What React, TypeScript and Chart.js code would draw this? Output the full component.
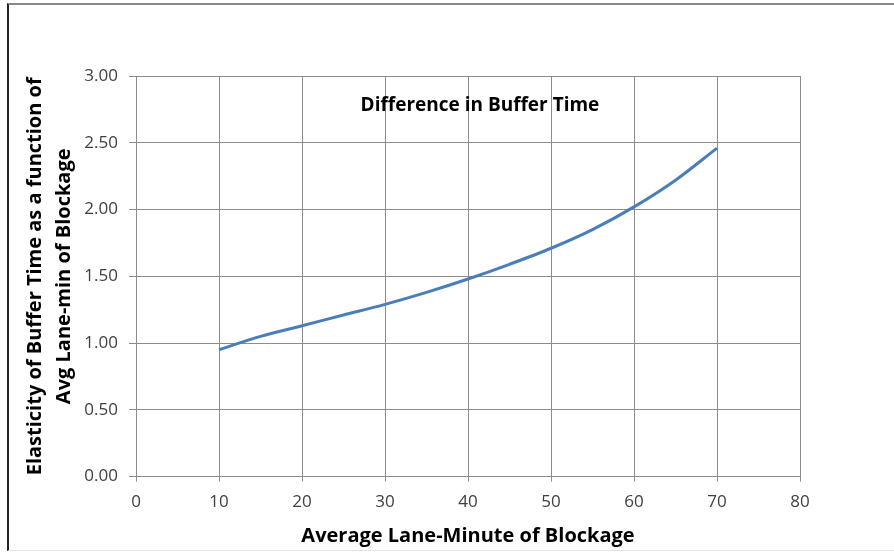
import React, { useEffect, useRef } from "react";
import { Chart, registerables } from "chart.js";

Chart.register(...registerables);

const xValues = [10, 15, 20, 25, 30, 35, 40, 45, 50, 55, 60, 65, 70];
const yValues = [0.95, 1.05, 1.13, 1.21, 1.29, 1.38, 1.48, 1.59, 1.71, 1.85, 2.02, 2.22, 2.46];
const chartTitle = "Difference in Buffer Time";
const xTitle = "Average Lane-Minute of Blockage";
const yTitle = ["Elasticity of Buffer Time as a function of", "Avg Lane-min of Blockage"];

const FONT = "'Open Sans', 'DejaVu Sans', sans-serif";

const innerTitle = {
  id: "innerTitle",
  afterDraw(chart: any) {
    const { ctx, chartArea } = chart;
    ctx.save();
    ctx.font = `bold 19px ${FONT}`;
    ctx.fillStyle = "#000";
    ctx.textAlign = "center";
    ctx.textBaseline = "middle";
    const x = chartArea.left + (chartArea.right - chartArea.left) * 0.518;
    ctx.fillText(chartTitle, x, chartArea.top + 30);
    ctx.restore();
  },
};

export default function App() {
  const ref = useRef<HTMLCanvasElement>(null);
  useEffect(() => {
    if (!ref.current) return;
    const chart = new Chart(ref.current, {
      type: "line",
      data: {
        datasets: [
          {
            data: xValues.map((x, i) => ({ x, y: yValues[i] })),
            borderColor: "#4a7ebb",
            borderWidth: 3,
            pointRadius: 0,
            cubicInterpolationMode: "monotone",
            fill: false,
          },
        ],
      },
      options: {
        animation: false,
        responsive: false,
        maintainAspectRatio: false,
        layout: { padding: { left: 0, top: 76, right: 94, bottom: 6 } },
        plugins: { legend: { display: false }, tooltip: { enabled: false } },
        scales: {
          x: {
            type: "linear",
            min: 0,
            max: 80,
            ticks: { stepSize: 10, color: "#404040", font: { family: FONT, size: 17 }, padding: 10 },
            grid: { color: "#8c8c8c", lineWidth: 1, tickLength: 5 },
            border: { color: "#8c8c8c" },
            title: {
              display: true,
              text: xTitle,
              color: "#000",
              font: { family: FONT, size: 20, weight: "bold" },
              padding: { top: 2, bottom: 0 },
            },
          },
          y: {
            min: 0,
            max: 3,
            ticks: {
              stepSize: 0.5,
              color: "#404040",
              font: { family: FONT, size: 17 },
              padding: 11,
              callback: (v: any) => Number(v).toFixed(2),
            },
            grid: { color: "#8c8c8c", lineWidth: 1, tickLength: 7 },
            border: { color: "#8c8c8c" },
            title: {
              display: true,
              text: yTitle,
              color: "#000",
              font: { family: FONT, size: 20, weight: "bold", lineHeight: 1.45 },
              padding: { top: 21, bottom: 0 },
            },
            afterFit: (s: any) => {
              s.width = 136;
            },
          },
        },
      },
      plugins: [innerTitle],
    } as any);
    return () => chart.destroy();
  }, []);
  return (
    <div style={{ position: "fixed", left: 0, top: 0, width: 894, height: 554, background: "#fff" }}>
      <div
        style={{
          position: "absolute",
          left: 7,
          top: 3,
          width: 887,
          height: 548,
          borderLeft: "2px solid #222",
          borderTop: "2px solid #888",
          borderBottom: "1px solid #e4e4e4",
          boxSizing: "border-box",
        }}
      />
      <canvas ref={ref} width={894} height={554} style={{ position: "absolute", left: 0, top: 0 }} />
    </div>
  );
}
